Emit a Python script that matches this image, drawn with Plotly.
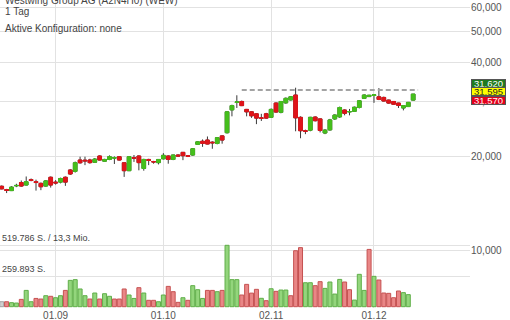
import numpy as np
import plotly.graph_objects as go

# ---------------- texts ----------------
title_text = "Westwing Group AG (A2N4H0) (WEW)"
period_text = "1 Tag"
config_text = "Aktive Konfiguration: none"

# ---------------- trading days (Aug 17 - Dec 11, 2020) ----------------
aug_days = [17, 18, 19, 20, 21, 24, 25, 26, 27, 28, 31]
sep_days = [1, 2, 3, 4, 7, 8, 9, 10, 11, 14, 15, 16, 17, 18, 21, 22, 23, 24, 25, 28, 29, 30]
oct_days = [1, 2, 5, 6, 7, 8, 9, 12, 13, 14, 15, 16, 19, 20, 21, 22, 23, 26, 27, 28, 29, 30]
nov_days = [2, 3, 4, 5, 6, 9, 10, 11, 12, 13, 16, 17, 18, 19, 20, 23, 24, 25, 26, 27, 30]
dec_days = [1, 2, 3, 4, 7, 8, 9, 10, 11]

dates = ([f"2020-08-{d:02d}" for d in aug_days] + [f"2020-09-{d:02d}" for d in sep_days]
         + [f"2020-10-{d:02d}" for d in oct_days] + [f"2020-11-{d:02d}" for d in nov_days]
         + [f"2020-12-{d:02d}" for d in dec_days])

# ---------------- OHLC (EUR) ----------------
opens = [16.0, 15.62, 15.5, 16.05, 16.45, 16.15, 16.8, 16.55, 16.35, 16.03,
         17.1, 16.5, 16.5, 17.1, 18.04, 17.86, 19.42, 19.4, 19.42, 19.1,
         20.0, 19.25, 19.5, 19.7, 19.9, 19.03, 17.95, 19.75, 20.0, 18.25,
         19.5, 19.2, 19.05, 19.6, 20.0, 19.5, 20.15, 20.55, 20.05, 20.15,
         21.8, 22.3, 22.5, 22.15, 21.95, 23.2, 23.75, 28.1, 29.7, 29.9,
         28.2, 27.7, 27.3, 26.5, 27.3, 26.6, 29.55, 27.6, 29.6, 30.25,
         31.35, 26.6, 24.1, 24.2, 26.65, 26.3, 23.7, 24.25, 26.3, 26.7,
         28.07, 27.7, 27.8, 28.6, 30.6, 31.0, 31.25, 30.95, 30.8, 30.2,
         29.9, 29.55, 28.5, 28.8, 30.2]
highs = [16.1, 15.7, 16.0, 16.3, 16.7, 17.2, 16.95, 16.8, 16.45, 16.75,
         17.2, 16.75, 17.05, 17.2, 18.15, 19.2, 19.9, 19.9, 19.6, 19.7,
         20.1, 19.6, 20.1, 19.95, 20.0, 19.1, 20.0, 20.15, 20.1, 19.6,
         19.6, 19.3, 19.55, 20.43, 20.1, 20.2, 20.25, 20.6, 20.1, 21.2,
         22.3, 22.6, 23.1, 22.3, 23.0, 23.3, 27.8, 29.2, 31.3, 30.1,
         28.3, 27.8, 27.4, 27.3, 27.5, 28.4, 29.7, 30.0, 30.8, 31.1,
         33.1, 26.8, 24.3, 26.7, 26.8, 26.4, 24.4, 26.3, 27.2, 28.8,
         28.2, 28.3, 28.8, 30.2, 31.5, 31.4, 31.5, 33.0, 31.0, 30.3,
         30.0, 29.6, 29.1, 29.8, 31.6]
lows = [15.65, 15.22, 15.45, 15.9, 15.95, 16.1, 16.6, 15.5, 15.55, 15.95,
        15.85, 16.2, 16.35, 16.05, 17.4, 17.7, 18.9, 18.7, 18.9, 19.0,
        19.35, 19.2, 19.4, 18.86, 19.35, 17.15, 17.9, 19.15, 18.0, 17.95,
        18.7, 18.9, 18.8, 19.5, 18.9, 19.4, 19.9, 19.4, 19.85, 20.05,
        21.7, 21.4, 21.8, 21.1, 21.8, 21.9, 23.6, 26.8, 28.5, 28.9,
        26.8, 26.5, 25.3, 25.9, 26.3, 26.5, 27.5, 27.4, 29.4, 30.1,
        24.0, 22.8, 23.5, 24.0, 25.8, 23.8, 23.5, 24.1, 26.1, 26.5,
        27.0, 27.0, 27.7, 28.4, 30.5, 30.9, 29.6, 30.2, 29.9, 29.4,
        29.2, 28.5, 28.0, 28.7, 30.1]
closes = [15.7, 15.52, 15.9, 16.1, 16.03, 16.55, 16.7, 16.45, 15.95, 16.65,
          16.15, 16.4, 16.95, 16.5, 17.52, 19.03, 19.03, 19.3, 19.05, 19.55,
          19.42, 19.5, 19.9, 19.75, 19.42, 17.95, 19.9, 19.7, 19.05, 19.5,
          19.35, 19.15, 19.5, 20.1, 19.5, 20.15, 20.0, 20.05, 19.95, 21.1,
          22.2, 21.95, 21.85, 22.05, 22.9, 22.5, 27.7, 29.0, 29.8, 29.0,
          27.7, 26.9, 26.45, 26.4, 26.45, 28.2, 27.66, 29.9, 30.6, 30.95,
          26.5, 24.1, 24.0, 26.6, 25.95, 24.15, 24.2, 26.1, 27.05, 28.6,
          27.4, 27.75, 28.65, 30.05, 31.35, 31.3, 31.4, 30.35, 30.0, 29.55,
          29.3, 29.05, 29.0, 29.7, 31.57]

# ---------------- volume (shares) ----------------
volumes = [42000, 42000, 34000, 31000, 62000, 138000, 42000, 70000, 65000, 93000,
           88000, 76000, 93000, 138000, 223000, 229000, 150000, 93000, 65000, 116000,
           65000, 110000, 88000, 65000, 65000, 150000, 99000, 70000, 161000, 116000,
           54000, 54000, 42000, 99000, 172000, 127000, 37000, 76000, 54000, 178000,
           144000, 70000, 138000, 138000, 127000, 138000, 519786, 229000, 229000, 99000,
           189000, 115000, 147000, 71000, 51000, 152000, 130000, 141000, 141000, 93000,
           474000, 500000, 203000, 203000, 178000, 212000, 155000, 209000, 107000, 231000,
           209000, 144000, 56000, 274000, 138000, 485000, 257000, 226000, 116000, 113000,
           76000, 133000, 119000, 102000]
volume_dir = ("n d u u d u u d d u "
              "d u u d u u u u d u "
              "d u u d d d u u d u "
              "d d u u d d d u d u "
              "u u d d u d u u u d "
              "d d d u d u d u u d "
              "d d u u d d u u u u "
              "d d u u u d u d d d "
              "d d u u").split()

# ---------------- axes / labels ----------------
tick_dates = ["2020-09-01", "2020-10-01", "2020-11-02", "2020-12-01"]
tick_labels = ["01.09", "01.10", "02.11", "01.12"]
price_ticks = [10, 20, 30, 40, 50, 60]
price_tick_labels = ["10,000", "20,000", "30,000", "40,000", "50,000", "60,000"]
volume_ticks = [259893, 519786]
volume_tick_labels = ["259.893 S.", "519.786 S. / 13,3 Mio."]
quote_values = [31.620, 31.595, 31.570]
quote_labels = ["31,620", "31,595", "31,570"]
resistance_level = 32.55
resistance_start = "2020-10-23"

# ---------------- styles ----------------
GREEN = "#45bf1c"
RED = "#e0141a"
WICK = "#3a3a3a"
GRID = "#e2e2e2"
TXT = "#555555"
FONT = "Liberation Sans, Arial, sans-serif"
vol_fill = {"u": "#93d57c", "d": "#e98686", "n": "#d0d0d0"}
vol_line = {"u": "#5fae48", "d": "#c65252", "n": "#a0a0a0"}

x = list(range(len(dates)))
x_vol = x[:len(volumes)]
tick_pos = [dates.index(d) for d in tick_dates]

fig = go.Figure()

# volume bars
fig.add_trace(go.Bar(
    x=x_vol, y=volumes, yaxis="y2",
    marker=dict(color=[vol_fill[d] for d in volume_dir],
                line=dict(color=[vol_line[d] for d in volume_dir], width=1)),
    hoverinfo="skip"))

# candles: wicks (dark) + bodies (coloured)
fig.add_trace(go.Candlestick(
    x=x, open=opens, high=highs, low=lows, close=closes,
    increasing=dict(line=dict(color=WICK, width=1), fillcolor=GREEN),
    decreasing=dict(line=dict(color=WICK, width=1), fillcolor=RED),
    hoverinfo="skip"))
body_hi = [max(o, c) for o, c in zip(opens, closes)]
body_lo = [min(o, c) for o, c in zip(opens, closes)]
fig.add_trace(go.Candlestick(
    x=x, open=opens, high=body_hi, low=body_lo, close=closes,
    increasing=dict(line=dict(color=GREEN, width=1), fillcolor=GREEN),
    decreasing=dict(line=dict(color=RED, width=1), fillcolor=RED),
    hoverinfo="skip"))

# resistance dashed line
fig.add_trace(go.Scatter(
    x=[dates.index(resistance_start), len(dates)],
    y=[resistance_level, resistance_level],
    mode="lines", line=dict(color="#a3a3a3", width=2, dash="5px,3px"),
    hoverinfo="skip"))

annotations = []
# header texts
for txt, ypx in [(title_text, 0.5), (period_text, 11.5), (config_text, 28.0)]:
    annotations.append(dict(text=txt, xref="paper", yref="paper", x=0, xshift=3,
                            y=1 - ypx / 308, xanchor="left", yanchor="middle",
                            showarrow=False, font=dict(size=10, color="#444444", family=FONT)))
# volume level labels
for v, lab in zip(volume_ticks, volume_tick_labels):
    annotations.append(dict(text=lab, xref="paper", yref="y2", x=0, xshift=0, y=v,
                            xanchor="left", yanchor="bottom", showarrow=False,
                            font=dict(size=9, color="#444444", family=FONT)))
# quote boxes
box_style = [("#1f7a1f", "white", 11.0), ("#ffff00", "#222222", 2.4), ("#e3001b", "white", -6.2)]
for val, lab, (bg, fg, ysh) in zip(quote_values, quote_labels, box_style):
    annotations.append(dict(text=lab, xref="paper", yref="y", x=1, xshift=1,
                            y=np.log10(quote_values[1]), yshift=ysh,
                            xanchor="left", yanchor="middle", showarrow=False,
                            bgcolor=bg, bordercolor="#555555", borderwidth=1, borderpad=0,
                            width=33, height=6.8,
                            font=dict(size=9.5, color=fg, family=FONT)))

fig.update_layout(
    width=510, height=320,
    margin=dict(l=0, r=40, t=0, b=12),
    paper_bgcolor="white", plot_bgcolor="white",
    showlegend=False,
    boxgap=0.25, boxgroupgap=0, bargap=0.18,
    font=dict(family=FONT, size=10, color=TXT),
    xaxis=dict(range=[-0.35, 95.6], tickmode="array", tickvals=tick_pos, ticktext=tick_labels,
               showgrid=True, gridcolor=GRID, gridwidth=1, zeroline=False, showline=False,
               ticks="", rangeslider=dict(visible=False), tickfont=dict(size=10, color=TXT)),
    yaxis=dict(type="log", range=[0.81447, 1.80056], side="right",
               tickmode="array", tickvals=price_ticks, ticktext=price_tick_labels,
               showgrid=True, gridcolor=GRID, gridwidth=1, zeroline=False, showline=False,
               ticks="", tickfont=dict(size=10, color=TXT)),
    yaxis2=dict(overlaying="y", side="left", range=[-11005, 2596400],
                tickmode="array", tickvals=volume_ticks, showticklabels=False,
                showgrid=True, gridcolor=GRID, gridwidth=1, zeroline=False, showline=False),
    annotations=annotations,
)

fig.write_html("out.html", config={"displayModeBar": False},
               post_script="document.body.style.margin='0';document.body.style.overflow='hidden';")
